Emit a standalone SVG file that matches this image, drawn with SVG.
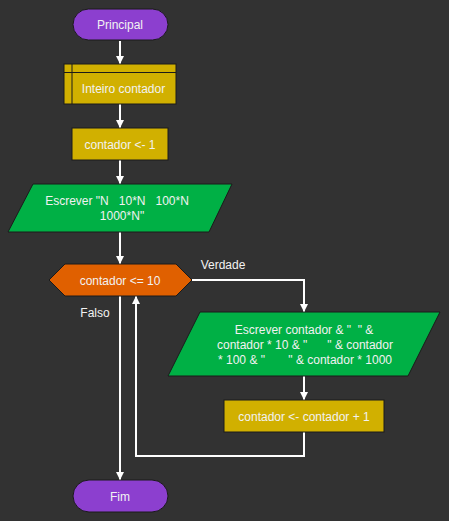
<svg xmlns="http://www.w3.org/2000/svg" width="449" height="521" viewBox="0 0 449 521">
<style>
text{font-family:"Liberation Sans",Arial,sans-serif;font-size:12px;fill:#f2f2f2;text-anchor:middle;white-space:pre}
.term{fill:#8c3fcf;stroke:#1a1a1a;stroke-width:1}
.proc{fill:#d1b000;stroke:#1a1a1a;stroke-width:1}
.io{fill:#00b045;stroke:#1a1a1a;stroke-width:1}
.dec{fill:#e06000;stroke:#1a1a1a;stroke-width:1}
.c{fill:none;stroke:#ffffff;stroke-width:2}
</style>
<defs>
<marker id="ah" markerWidth="8" markerHeight="8" refX="8" refY="4" orient="auto" markerUnits="userSpaceOnUse">
<path d="M0,0 L8,4 L0,8 Z" fill="#ffffff"/>
</marker>
</defs>
<rect width="449" height="521" fill="#323232"/>
<g id="connectors">
<path class="c" d="M120,41 V64" marker-end="url(#ah)"/>
<path class="c" d="M120,104 V128" marker-end="url(#ah)"/>
<path class="c" d="M120,160 V184" marker-end="url(#ah)"/>
<path class="c" d="M120,232 V264" marker-end="url(#ah)"/>
<path class="c" d="M192,280 H304 V312" marker-end="url(#ah)"/>
<path class="c" d="M304,376 V400" marker-end="url(#ah)"/>
<path class="c" d="M304,432 V456 H136 V296" marker-end="url(#ah)"/>
<path class="c" d="M120,296 V480" marker-end="url(#ah)"/>
<text x="223" y="269">Verdade</text>
<text x="95" y="317">Falso</text>
</g>
<g id="principal">
<rect class="term" x="73" y="9" width="95" height="31" rx="15.5"/>
<text x="120" y="29">Principal</text>
</g>
<g id="inteiro">
<rect class="proc" x="64" y="64" width="112" height="40"/>
<path d="M72,64 V104 M64,72.5 H176" stroke="#1a1a1a" stroke-width="1" fill="none"/>
<text x="123.5" y="93">Inteiro contador</text>
</g>
<g id="atrib1">
<rect class="proc" x="72" y="128" width="96" height="32"/>
<text x="120" y="149">contador &lt;- 1</text>
</g>
<g id="escrever1">
<path class="io" d="M33,184 H232 L209,232 H8 Z"/>
<text x="122" y="205">Escrever "N   10*N   100*N   </text>
<text x="122" y="220">1000*N"</text>
</g>
<g id="decisao">
<path class="dec" d="M65,264 H176 L192,280 L176,296 H65 L49,280 Z"/>
<text x="120" y="285">contador &lt;= 10</text>
</g>
<g id="escrever2">
<path class="io" d="M200,312 H440 L408,376 H168 Z"/>
<text x="304" y="334">Escrever contador &amp; "  " &amp;</text>
<text x="305" y="349">contador * 10 &amp; "      " &amp; contador</text>
<text x="305" y="364">* 100 &amp; "       " &amp; contador * 1000</text>
</g>
<g id="incremento">
<rect class="proc" x="224" y="400" width="160" height="32"/>
<text x="304" y="421">contador &lt;- contador + 1</text>
</g>
<g id="fim">
<rect class="term" x="73" y="480" width="95" height="32" rx="16"/>
<text x="120" y="501">Fim</text>
</g>
</svg>
